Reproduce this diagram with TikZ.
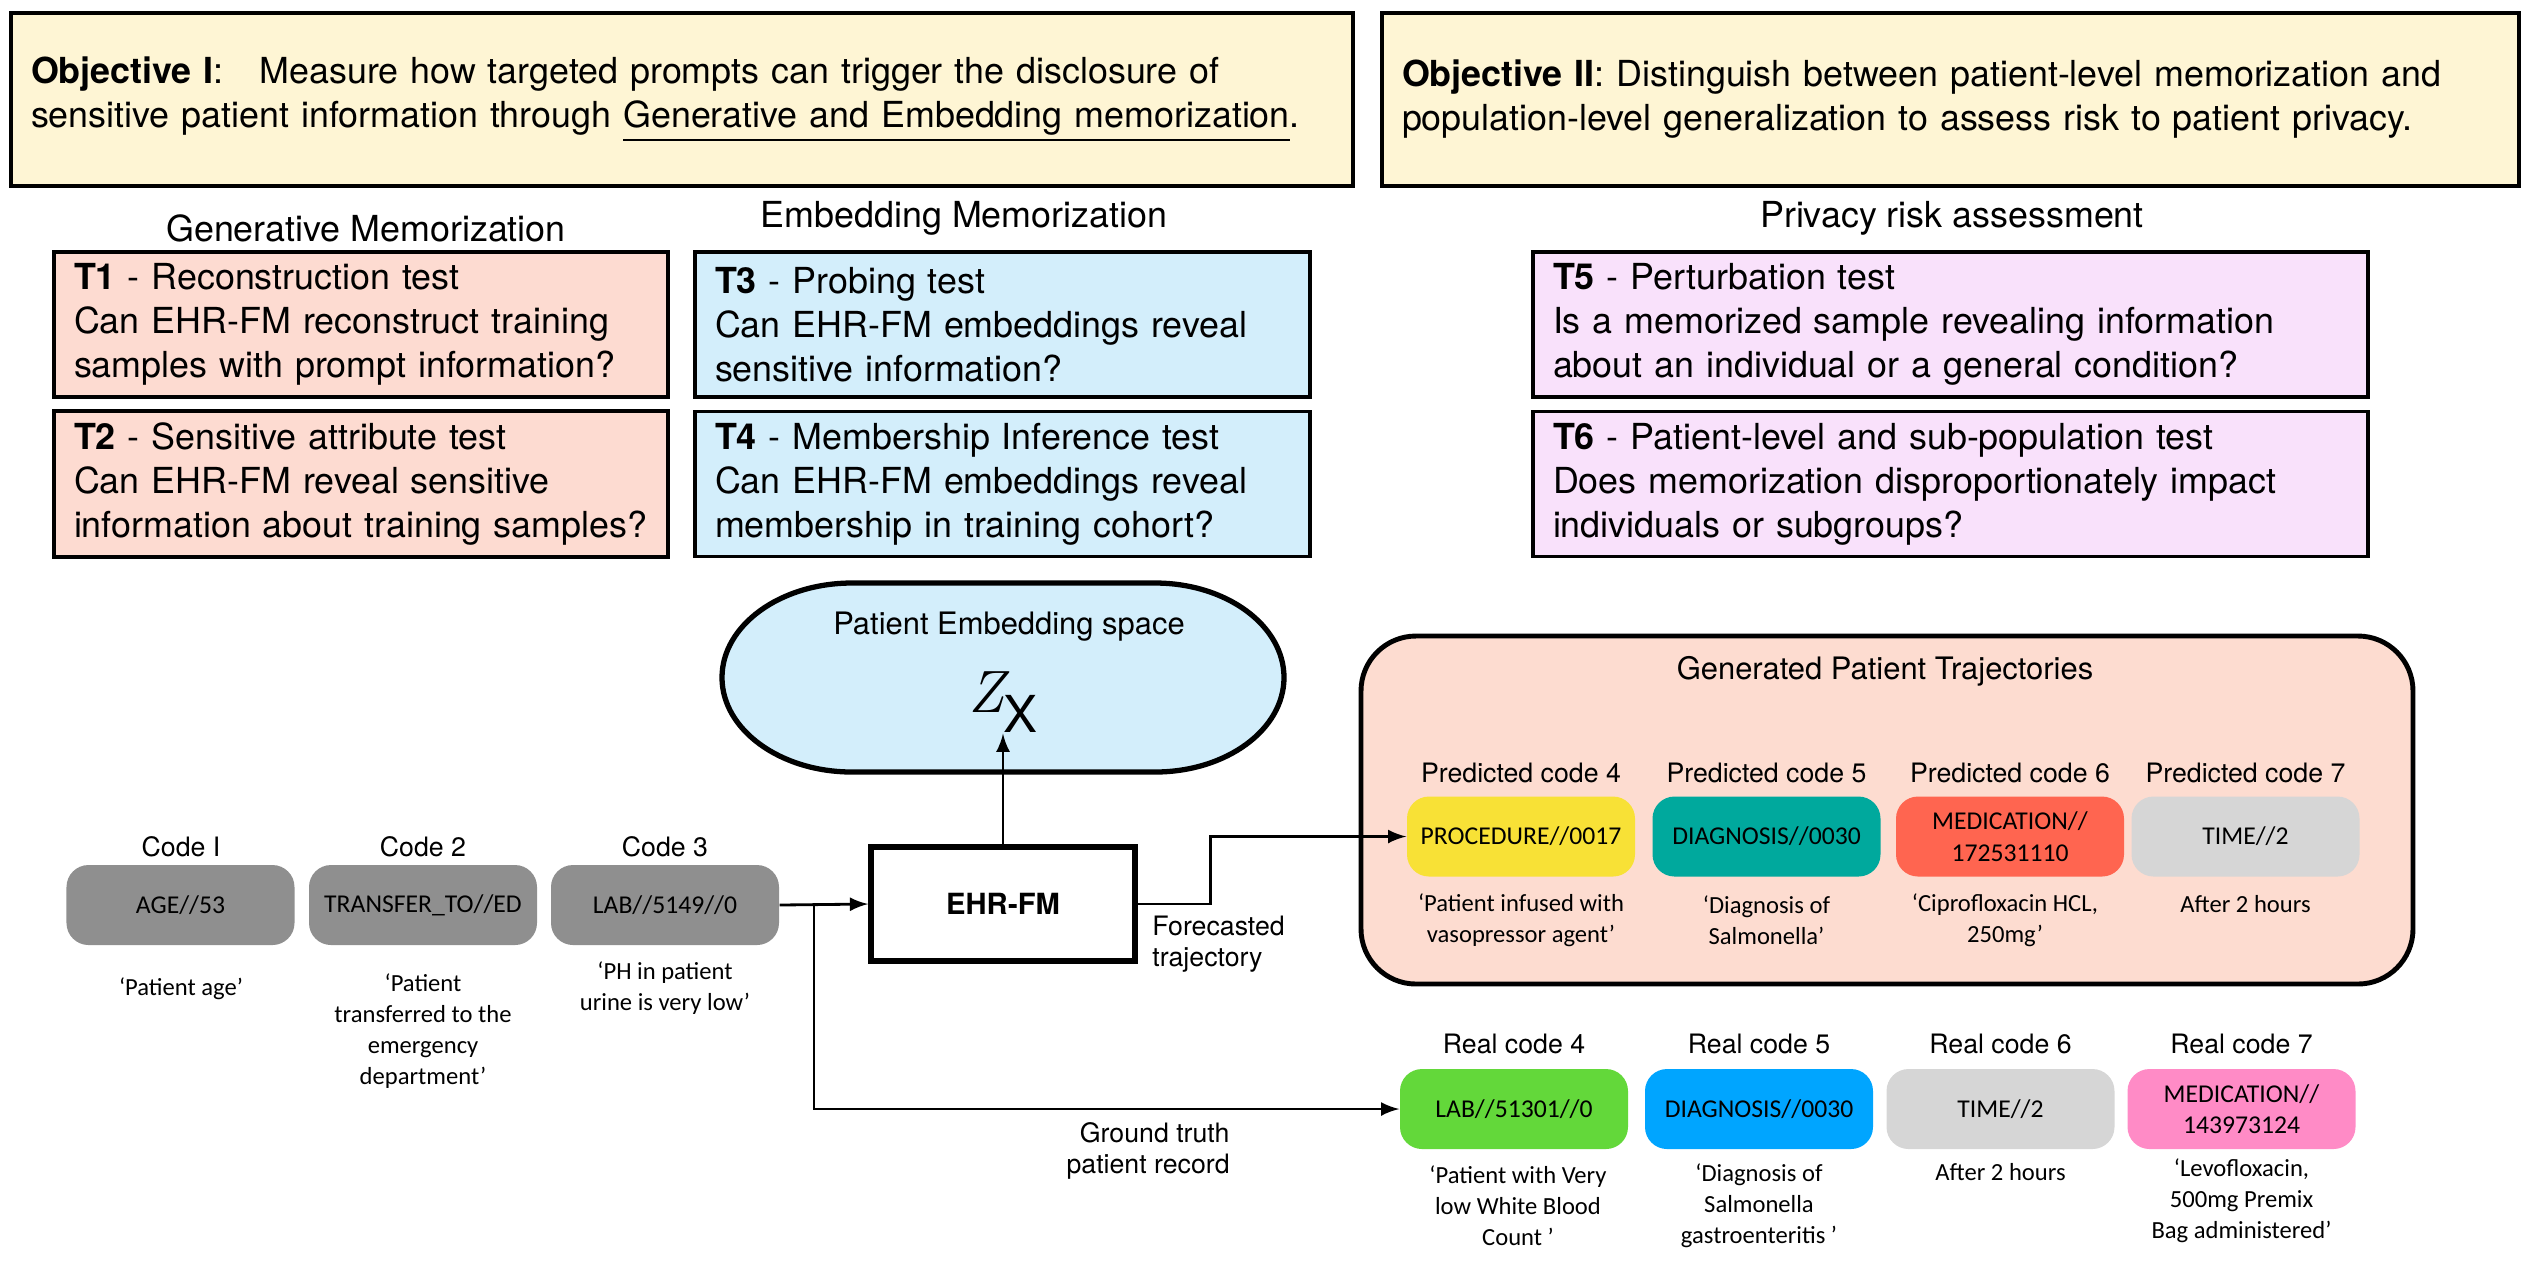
\documentclass[tikz,border=0pt]{standalone}
\usepackage{fontspec}
\setmainfont{TeX Gyre Heros}
\newfontfamily\calfont{Carlito}
\newfontfamily\lmfont{Latin Modern Roman}
\usepackage{tikz}
\usetikzlibrary{calc}
\usetikzlibrary{arrows.meta}
\tikzset{>=latex}
\definecolor{objcol}{HTML}{FEF5D4}
\definecolor{gencol}{HTML}{FDDBD1}
\definecolor{embcol}{HTML}{D3EEFB}
\definecolor{privcol}{HTML}{F9E1FB}
\definecolor{trajcol}{HTML}{FDDCD0}
\definecolor{codegray}{HTML}{8F8F8F}
\definecolor{procyellow}{HTML}{F8E136}
\definecolor{diagteal}{HTML}{00A99D}
\definecolor{medred}{HTML}{FF6550}
\definecolor{timegray}{HTML}{D6D6D6}
\definecolor{labgreen}{HTML}{63D83A}
\definecolor{diagblue}{HTML}{00A5FF}
\definecolor{medpink}{HTML}{FF8BC6}
\tikzset{objbox/.style = {draw, line width=1.2pt, fill=objcol, minimum height=1.73cm, inner xsep=0.2cm, align=left, font=\fontsize{10.2}{12.5}\selectfont}}
\tikzset{testbox/.style = {draw, line width=1pt, minimum height=1.45cm, inner xsep=0.2cm, align=left, font=\fontsize{10.2}{12.5}\selectfont}}
\tikzset{heading/.style = {font=\fontsize{10.2}{12.5}\selectfont}}
\tikzset{codebox/.style = {rounded corners=0.22cm, minimum width=2.28cm, minimum height=0.8cm, align=center, font=\calfont\fontsize{7.3}{9}\selectfont}}
\tikzset{codelabel/.style = {font=\fontsize{7.6}{9}\selectfont}}
\tikzset{desc/.style = {align=center, font=\calfont\fontsize{7}{8.8}\selectfont}}
\tikzset{link/.style = {thick}}

\begin{document}
\begin{tikzpicture}
                \useasboundingbox (0,0) rectangle (25.31,-12.60);

                % objectives
                \node[objbox, text width=13.02cm] (O1) at (6.82,-0.995) {\textbf{Objective I}:\quad Measure how targeted prompts can trigger the disclosure of\\sensitive patient information through \underline{Generative and Embedding memorization}.};
                \node[objbox, text width=10.97cm] (O2) at (19.505,-0.995) {\textbf{Objective II}: Distinguish between patient-level memorization and\\population-level generalization to assess risk to patient privacy.};

                \node[heading] (GM) at (3.66,-2.28) {Generative Memorization};
                \node[heading] (EM) at (9.64,-2.18) {Embedding Memorization};
                \node[heading] (PR) at (19.52,-2.18) {Privacy risk assessment};

                % tests
                \node[testbox, fill=gencol, text width=5.74cm] (T1) at (3.61,-3.245) {\textbf{T1} - Reconstruction test\\Can EHR-FM reconstruct training\\samples with prompt information?};
                \node[testbox, fill=gencol, text width=5.74cm] (T2) at (3.61,-4.84) {\textbf{T2} - Sensitive attribute test\\Can EHR-FM reveal sensitive\\information about training samples?};
                \node[testbox, fill=embcol, text width=5.75cm] (T3) at (10.025,-3.245) {\textbf{T3} - Probing test\\Can EHR-FM embeddings reveal\\sensitive information?};
                \node[testbox, fill=embcol, text width=5.75cm] (T4) at (10.025,-4.84) {\textbf{T4} - Membership Inference test\\Can EHR-FM embeddings reveal\\membership in training cohort?};
                \node[testbox, fill=privcol, text width=7.95cm] (T5) at (19.505,-3.245) {\textbf{T5} - Perturbation test\\Is a memorized sample revealing information\\about an individual or a general condition?};
                \node[testbox, fill=privcol, text width=7.95cm] (T6) at (19.505,-4.84) {\textbf{T6} - Patient-level and sub-population test\\Does memorization disproportionately impact\\individuals or subgroups?};

                % embedding space
                \draw[line width=1.5pt, fill=embcol] (8.52,-5.83) -- (11.55,-5.83) arc[start angle=90, end angle=-90, x radius=1.29, y radius=0.945] -- (8.52,-7.72) arc[start angle=270, end angle=90, x radius=1.30, y radius=0.945] -- cycle;
                \node[font=\fontsize{8.8}{10}\selectfont] (ES) at (10.09,-6.27) {Patient Embedding space};
                \node[inner sep=0pt] (Z) at (10.03,-7.025) {{\lmfont\itshape\fontsize{17}{19}\selectfont Z}\raisebox{-0.2cm}{\fontsize{14.5}{16}\selectfont X}};

                % model
                \node[draw, line width=1.6pt, minimum width=2.64cm, minimum height=1.14cm, font=\bfseries\fontsize{8.3}{10}\selectfont] (FM) at (10.03,-9.04) {EHR-FM};

                % prompt codes
                \node[codebox, fill=codegray] (C1) at (1.805,-9.05) {AGE//53};
                \node[codebox, fill=codegray] (C2) at (4.23,-9.05) {TRANSFER\_TO//ED};
                \node[codebox, fill=codegray] (C3) at (6.65,-9.05) {LAB//5149//0};
                \node[codelabel] (C1l) at (1.81,-8.47) {Code I};
                \node[codelabel] (C2l) at (4.23,-8.47) {Code 2};
                \node[codelabel] (C3l) at (6.65,-8.47) {Code 3};
                \node[desc] (C1d) at (1.81,-9.89) {‘Patient age’};
                \node[desc] (C2d) at (4.23,-10.31) {‘Patient\\transferred to the\\emergency\\department’};
                \node[desc] (C3d) at (6.65,-9.885) {‘PH in patient\\urine is very low’};

                % generated trajectory
                \node[draw, line width=1.4pt, fill=trajcol, rounded corners=0.55cm, minimum width=10.52cm, minimum height=3.48cm] (GT) at (18.87,-8.10) {};
                \node[font=\fontsize{8.8}{10}\selectfont] (GTl) at (18.85,-6.71) {Generated Patient Trajectories};
                \node[codebox, fill=procyellow] (P4) at (15.21,-8.365) {PROCEDURE//0017};
                \node[codebox, fill=diagteal] (P5) at (17.665,-8.365) {DIAGNOSIS//0030};
                \node[codebox, fill=medred] (P6) at (20.10,-8.365) {MEDICATION//\\172531110};
                \node[codebox, fill=timegray] (P7) at (22.455,-8.365) {TIME//2};
                \node[codelabel] (P4l) at (15.21,-7.73) {Predicted code 4};
                \node[codelabel] (P5l) at (17.665,-7.73) {Predicted code 5};
                \node[codelabel] (P6l) at (20.10,-7.73) {Predicted code 6};
                \node[codelabel] (P7l) at (22.455,-7.73) {Predicted code 7};
                \node[desc] (P4d) at (15.21,-9.20) {‘Patient infused with\\vasopressor agent’};
                \node[desc] (P5d) at (17.665,-9.20) {‘Diagnosis of\\Salmonella’};
                \node[desc] (P6d) at (20.05,-9.20) {‘Ciprofloxacin HCL,\\250mg’};
                \node[desc] (P7d) at (22.455,-9.04) {After 2 hours};

                % real record
                \node[codebox, fill=labgreen] (R4) at (15.14,-11.09) {LAB//51301//0};
                \node[codebox, fill=diagblue] (R5) at (17.59,-11.09) {DIAGNOSIS//0030};
                \node[codebox, fill=timegray] (R6) at (20.005,-11.09) {TIME//2};
                \node[codebox, fill=medpink] (R7) at (22.415,-11.09) {MEDICATION//\\143973124};
                \node[codelabel] (R4l) at (15.14,-10.44) {Real code 4};
                \node[codelabel] (R5l) at (17.59,-10.44) {Real code 5};
                \node[codelabel] (R6l) at (20.005,-10.44) {Real code 6};
                \node[codelabel] (R7l) at (22.415,-10.44) {Real code 7};
                \node[desc] (R4d) at (15.18,-12.06) {‘Patient with Very\\low White Blood\\Count ’};
                \node[desc] (R5d) at (17.59,-12.06) {‘Diagnosis of\\Salmonella\\gastroenteritis ’};
                \node[desc] (R6d) at (20.005,-11.72) {After 2 hours};
                \node[desc] (R7d) at (22.415,-12.01) {‘Levofloxacin,\\500mg Premix\\Bag administered’};

                % connectors
                \coordinate (S) at (8.14,-9.05);
                \draw[link, ->] (C3.east) -- (FM.west);
                \draw[link, ->] (S) |- (R4.west);
                \draw[link, ->] (FM.east) -- ++(0.73,0) |- (P4.west);
                \draw[link, ->] (FM.north) -- (Z.south);
                \node[codelabel, align=left, anchor=west] (FT) at (11.40,-9.44) {Forecasted\\trajectory};
                \node[codelabel, align=right, anchor=east] (GR) at (12.42,-11.51) {Ground truth\\patient record};
            \end{tikzpicture}
\end{document}
